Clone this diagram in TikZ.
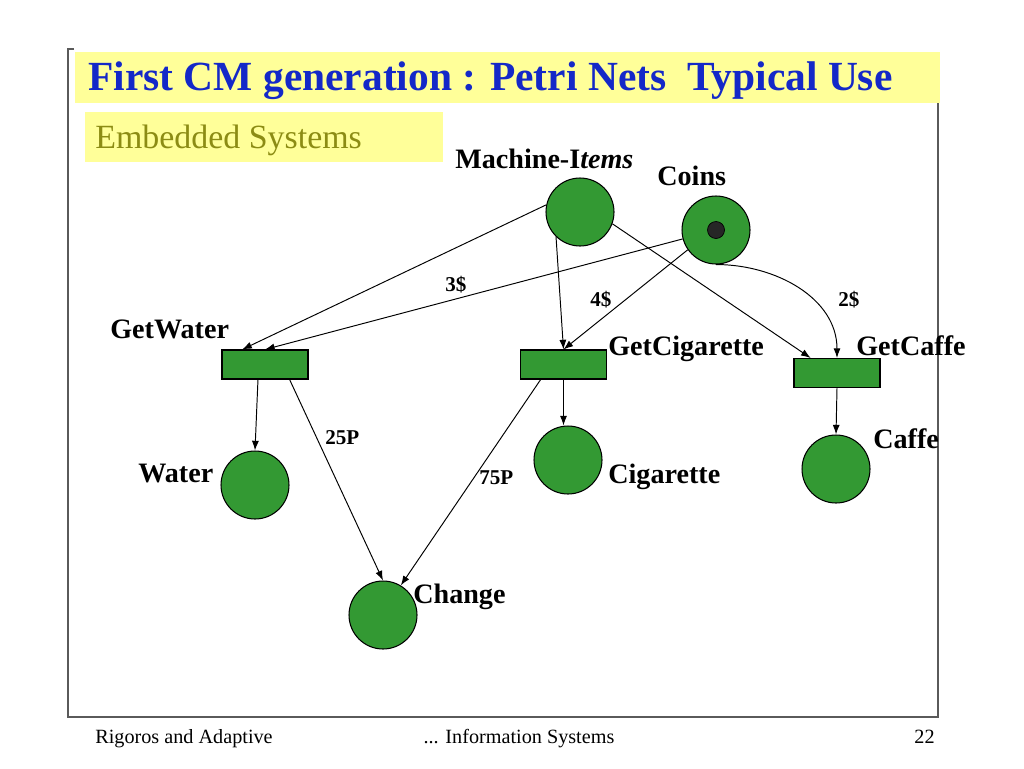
\documentclass[tikz,border=0pt]{standalone}
\usepackage{fontspec}
\setmainfont{Liberation Serif}
\usepackage{tikz}
\usetikzlibrary{arrows.meta}

\definecolor{placegreen}{RGB}{51,153,51}
\definecolor{slideyellow}{RGB}{255,255,153}
\definecolor{titleblue}{RGB}{20,40,200}
\definecolor{olivetext}{RGB}{140,140,20}
\definecolor{framegray}{RGB}{90,90,90}

\begin{document}
\begin{tikzpicture}[x=0.02cm, y=-0.02cm, >={Latex[length=5.5pt,width=4pt]},
    place/.style={circle, draw=black, fill=placegreen, minimum size=1.36cm, inner sep=0pt, line width=0.6pt},
    trans/.style={rectangle, draw=black, fill=placegreen, minimum width=1.72cm, minimum height=0.58cm, inner sep=0pt, line width=0.6pt},
    token/.style={circle, fill=black!85, draw=black, minimum size=0.34cm, inner sep=0pt},
    lbl/.style={anchor=base west, inner sep=0pt, font=\fontsize{16}{18}\selectfont\bfseries},
    wgt/.style={anchor=base west, inner sep=0pt, font=\fontsize{12}{14}\selectfont\bfseries},
    foot/.style={anchor=base, inner sep=0pt, font=\fontsize{11.5}{13}\selectfont},
    arc/.style={->, line width=0.55pt}]
            \useasboundingbox (0,0) rectangle (1024,768);
            % slide frame and title
            \draw[framegray, line width=0.8pt] (74,49) -- (68,49) -- (68,717) -- (938,717) -- (938,103);
            \fill[slideyellow] (75,52) rectangle (940,103);
            \fill[slideyellow] (85,112) rectangle (443,162);
            \node[anchor=base west, inner sep=0pt, text=titleblue, font=\fontsize{23.6}{28}\selectfont\bfseries] (title) at (88,90) {First CM generation : Petri Nets\ \ Typical Use};
            \node[anchor=base west, inner sep=0pt, text=olivetext, font=\fontsize{19.3}{22}\selectfont] (sub) at (95,148) {Embedded Systems};
            % places
            \node[place] (mi) at (580,212) {};
            \node[place] (co) at (716,230) {};
            \node[token] (tok) at (co) {};
            \node[place] (wa) at (255,485) {};
            \node[place] (ci) at (568,460) {};
            \node[place] (caf) at (836,469) {};
            \node[place] (ch) at (383,615) {};
            % transitions
            \node[trans] (gw) at (265,364.5) {};
            \node[trans] (gcig) at (563.5,364.5) {};
            \node[trans] (gcaf) at (837,373) {};
            % labels
            \node[lbl] (milbl) at (455,168) {Machine-I\textit{tems}};
            \node[lbl] (colbl) at (657,185) {Coins};
            \node[lbl] (gwlbl) at (110,338) {GetWater};
            \node[lbl] (gciglbl) at (608,355) {GetCigarette};
            \node[lbl] (gcaflbl) at (856,355) {GetCaffe};
            \node[lbl] (walbl) at (138,482) {Water};
            \node[lbl] (cilbl) at (608,483) {Cigarette};
            \node[lbl] (caflbl) at (873,448) {Caffe};
            \node[lbl] (chlbl) at (413,603) {Change};
            % arcs
            \draw[arc] (mi.168) -- ([xshift=-13pt]gw.north);
            \draw[arc] (co.195) -- (gw.north);
            \draw[arc] (mi.226) -- (gcig.north);
            \draw[arc] (co.215) -- (gcig.north);
            \draw[arc] (mi.-20) -- ([xshift=-15pt]gcaf.north);
            \draw[arc] (co.south) to[out=0, in=90] (gcaf.north);
            \draw[arc] ([xshift=-4pt]gw.south) -- (wa.north);
            \draw[arc] ([xshift=14pt]gw.south) -- (ch.north);
            \draw[arc] (gcig.south) -- (gcig.south |- ci.north);
            \draw[arc] ([xshift=-13pt]gcig.south) -- (ch.59);
            \draw[arc] (gcaf.south) -- (caf.north);
            % weights
            \node[wgt] (w3) at (445,291) {3\$};
            \node[wgt] (w4) at (590,306) {4\$};
            \node[wgt] (w2) at (838,306) {2\$};
            \node[wgt] (w25) at (325,444) {25P};
            \node[wgt] (w75) at (479,484) {75P};
            % footer
            \node[foot, anchor=base west] (fl) at (95,743) {Rigoros and Adaptive};
            \node[foot] (fc) at (519,743) {... Information Systems};
            \node[foot, anchor=base east] (fr) at (935,743) {22};
        \end{tikzpicture}
\end{document}
